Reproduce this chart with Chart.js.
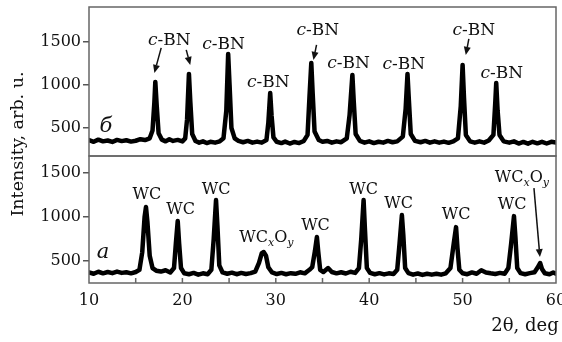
<!DOCTYPE html>
<html>
<head>
<meta charset="utf-8">
<script src="https://cdn.jsdelivr.net/npm/chart.js@4.4.0/dist/chart.umd.min.js"></script>
<style>
  html, body { margin: 0; padding: 0; background: #fff; }
  #wrap { position: relative; width: 562px; height: 342px; overflow: hidden; font-family: 'DejaVu Serif', serif; color: #111; }
  #topCanvas { position: absolute; left: 0; top: 0; }
  #botCanvas { position: absolute; left: 0; top: 150px; }
  .ytitle { position: absolute; left: -83px; top: 133px; width: 200px; height: 22px; line-height: 22px; text-align: center; transform: rotate(-90deg); white-space: nowrap; font-size: 17.5px; }
  .xtitle { position: absolute; left: 425px; top: 314px; width: 200px; height: 22px; line-height: 22px; text-align: center; white-space: nowrap; font-size: 18px; }
</style>
</head>
<body>
<div id="wrap">
  <canvas id="topCanvas" width="562" height="160"></canvas>
  <canvas id="botCanvas" width="562" height="192"></canvas>
  <div class="ytitle">Intensity, arb. u.</div>
  <div class="xtitle">2θ, deg</div>
</div>
<script>
// Панель б (c-BN): угол 2θ и интенсивность
const topAngle = [10.0, 10.5, 11.0, 11.5, 12.0, 12.5, 13.0, 13.5, 14.0, 14.5, 15.0, 15.5, 16.0, 16.5, 16.8, 17.0, 17.1, 17.25, 17.45, 17.8,
  18.2, 18.6, 19.0, 19.5, 20.0, 20.3, 20.5, 20.7, 20.85, 21.05, 21.4, 21.8, 22.2, 22.6, 23.0, 23.5, 24.0, 24.4, 24.7, 24.9,
  25.05, 25.25, 25.6, 26.0, 26.5, 27.0, 27.5, 28.0, 28.5, 29.0, 29.2, 29.4, 29.55, 29.75, 30.1, 30.6, 31.0, 31.5, 32.0, 32.5,
  33.0, 33.4, 33.6, 33.8, 33.95, 34.15, 34.6, 35.0, 35.5, 36.0, 36.5, 37.0, 37.6, 37.9, 38.2, 38.35, 38.55, 39.0, 39.5, 40.0,
  40.5, 41.0, 41.5, 42.0, 42.5, 43.0, 43.6, 43.9, 44.1, 44.25, 44.45, 44.9, 45.5, 46.0, 46.5, 47.0, 47.5, 48.0, 48.5, 49.0,
  49.5, 49.8, 50.0, 50.15, 50.35, 50.8, 51.3, 51.8, 52.3, 52.8, 53.3, 53.5, 53.6, 53.75, 53.95, 54.4, 55.0, 55.5, 56.0, 56.5,
  57.0, 57.5, 58.0, 58.5, 59.0, 59.5, 60.0];
const topIntensity = [360, 340, 365, 345, 355, 338, 362, 348, 358, 342, 352, 370, 360, 380, 470, 800, 1035, 760, 440, 365,
  345, 370, 350, 362, 345, 380, 600, 1128, 800, 430, 350, 330, 345, 325, 340, 330, 345, 380, 700, 1360,
  1000, 500, 380, 350, 335, 350, 330, 342, 330, 360, 560, 907, 640, 390, 340, 325, 342, 320, 338, 325,
  350, 420, 850, 1256, 900, 460, 360, 340, 350, 330, 345, 335, 380, 650, 1116, 800, 430, 350, 330, 345,
  325, 340, 330, 350, 335, 345, 400, 720, 1128, 820, 430, 350, 335, 350, 330, 345, 330, 342, 328, 345,
  380, 750, 1233, 850, 420, 345, 330, 345, 330, 355, 420, 800, 1023, 700, 420, 345, 330, 345, 320, 338,
  318, 340, 322, 340, 320, 340, 330];

// Панель а (WC): угол 2θ и интенсивность
const botAngle = [10.0, 10.5, 11.0, 11.5, 12.0, 12.5, 13.0, 13.5, 14.0, 14.5, 15.0, 15.4, 15.7, 15.95, 16.1, 16.25, 16.5, 16.8, 17.2, 17.7,
  18.2, 18.7, 19.1, 19.3, 19.5, 19.65, 19.85, 20.2, 20.7, 21.2, 21.7, 22.2, 22.7, 23.1, 23.35, 23.6, 23.75, 23.95, 24.3, 24.8,
  25.3, 25.8, 26.3, 26.8, 27.3, 27.8, 28.2, 28.5, 28.7, 28.95, 29.2, 29.6, 30.1, 30.6, 31.1, 31.6, 32.1, 32.6, 33.1, 33.6,
  33.9, 34.2, 34.4, 34.55, 34.75, 35.1, 35.6, 36.0, 36.5, 37.0, 37.5, 38.0, 38.5, 38.9, 39.15, 39.4, 39.55, 39.75, 40.1, 40.6,
  41.1, 41.6, 42.1, 42.6, 43.0, 43.25, 43.5, 43.65, 43.85, 44.2, 44.7, 45.2, 45.7, 46.2, 46.7, 47.2, 47.7, 48.2, 48.7, 49.05,
  49.3, 49.45, 49.65, 50.0, 50.5, 51.0, 51.5, 52.0, 52.5, 53.0, 53.5, 54.0, 54.5, 54.9, 55.2, 55.5, 55.65, 55.85, 56.2, 56.7,
  57.2, 57.7, 58.0, 58.3, 58.5, 58.8, 59.3, 59.7, 60.0];
const botIntensity = [370, 355, 378, 360, 375, 362, 380, 365, 372, 360, 375, 400, 600, 1000, 1114, 950, 560, 420, 390, 380,
  395, 370, 420, 700, 955, 700, 420, 360, 350, 365, 345, 360, 350, 400, 750, 1193, 900, 450, 370, 355,
  368, 350, 365, 352, 362, 380, 480, 590, 602, 560, 430, 370, 352, 365, 350, 362, 355, 372, 360, 400,
  430, 620, 773, 600, 400, 375, 420, 375, 360, 372, 358, 378, 365, 420, 750, 1193, 850, 420, 365, 350,
  362, 348, 360, 352, 400, 700, 1023, 800, 420, 362, 345, 358, 342, 355, 345, 355, 345, 360, 420, 700,
  886, 650, 400, 360, 350, 370, 355, 395, 370, 360, 352, 365, 355, 420, 700, 1011, 780, 420, 362, 350,
  362, 372, 420, 477, 410, 360, 350, 370, 355];

const yTicks = [500, 1000, 1500];

// подписи пиков (положение в координатах графика)
const topNoteAngle = [18.6, 24.4, 29.2, 34.5, 37.8, 43.7, 51.2, 54.2];
const topNoteLevel = [1512, 1465, 1023, 1628, 1244, 1233, 1628, 1128];
const topArrows = [[17.73, 1430, 17.0, 1140], [20.41, 1407, 20.84, 1233], [34.36, 1465, 34.03, 1291], [50.67, 1535, 50.34, 1349]];

const botNoteText = ['WC', 'WC', 'WC', 'WCxOy', 'WC', 'WC', 'WC', 'WC', 'WC', 'WCxOy'];
const botNoteAngle = [16.2, 19.8, 23.6, 29.0, 34.25, 39.4, 43.15, 49.3, 55.3, 56.35];
const botNoteLevel = [1250, 1080, 1307, 761, 898, 1307, 1148, 1023, 1136, 1443];
const botArrows = [[57.64, 1330, 58.28, 545]];

const FONT = "'DejaVu Serif', serif";
Chart.defaults.font.family = FONT;
Chart.defaults.color = '#111';

function partsFor(kind) {
  if (kind === 'c-BN') return [{ t: 'c', it: true, size: 17 }, { t: '-BN', size: 17 }];
  if (kind === 'WCxOy') return [{ t: 'WC', size: 16 }, { t: 'x', it: true, sub: true, size: 11 }, { t: 'O', size: 16 }, { t: 'y', it: true, sub: true, size: 11 }];
  return [{ t: kind, size: 16 }];
}

function drawRich(ctx, parts, cx, cy) {
  let w = 0;
  parts.forEach(p => {
    ctx.font = (p.it ? 'italic ' : '') + p.size + 'px ' + FONT;
    p.w = ctx.measureText(p.t).width;
    w += p.w;
  });
  let x = cx - w / 2;
  ctx.textAlign = 'left';
  ctx.textBaseline = 'middle';
  parts.forEach(p => {
    ctx.font = (p.it ? 'italic ' : '') + p.size + 'px ' + FONT;
    ctx.fillText(p.t, x, cy + (p.sub ? 5 : 0));
    x += p.w;
  });
}

function drawArrow(ctx, x1, y1, x2, y2) {
  const a = Math.atan2(y2 - y1, x2 - x1);
  const L = 8, H = 3.5;
  ctx.beginPath();
  ctx.moveTo(x1, y1);
  ctx.lineTo(x2 - L * Math.cos(a), y2 - L * Math.sin(a));
  ctx.lineWidth = 1.5;
  ctx.strokeStyle = '#111';
  ctx.stroke();
  ctx.beginPath();
  ctx.moveTo(x2, y2);
  ctx.lineTo(x2 - L * Math.cos(a) + H * Math.sin(a), y2 - L * Math.sin(a) - H * Math.cos(a));
  ctx.lineTo(x2 - L * Math.cos(a) - H * Math.sin(a), y2 - L * Math.sin(a) + H * Math.cos(a));
  ctx.closePath();
  ctx.fillStyle = '#111';
  ctx.fill();
}

// рамка, засечки, подписи и стрелки
function panelPlugin(notes, arrows, letter, inwardTicks) {
  return {
    id: 'panel',
    afterDraw(chart) {
      const { ctx, chartArea: a, scales } = chart;
      ctx.save();
      ctx.strokeStyle = '#666';
      ctx.lineWidth = 1.5;
      ctx.strokeRect(a.left, a.top, a.right - a.left, a.bottom - a.top);
      if (inwardTicks) {
        ctx.beginPath();
        for (let v = 15; v < 60; v += 5) {
          const px = scales.x.getPixelForValue(v);
          ctx.moveTo(px, a.bottom);
          ctx.lineTo(px, a.bottom - 5);
        }
        ctx.stroke();
      }
      ctx.fillStyle = '#111';
      notes.forEach(n => drawRich(ctx, partsFor(n.text), scales.x.getPixelForValue(n.x), scales.y.getPixelForValue(n.y)));
      arrows.forEach(r => drawArrow(ctx, scales.x.getPixelForValue(r[0]), scales.y.getPixelForValue(r[1]),
        scales.x.getPixelForValue(r[2]), scales.y.getPixelForValue(r[3])));
      ctx.font = 'italic 21px ' + FONT;
      ctx.textAlign = 'center';
      ctx.textBaseline = 'middle';
      ctx.fillStyle = '#111';
      ctx.fillText(letter.t, scales.x.getPixelForValue(letter.x), scales.y.getPixelForValue(letter.y));
      ctx.restore();
    }
  };
}

function yAxis(min, max) {
  return {
    min: min, max: max,
    afterBuildTicks: s => { s.ticks = yTicks.map(v => ({ value: v })); },
    afterFit: s => { s.width = 89; s.paddingTop = 0; s.paddingBottom = 0; },
    grid: { drawOnChartArea: false, tickLength: 6, color: '#555', lineWidth: 1.5 },
    border: { display: false },
    ticks: { padding: 2, font: { size: 16 }, color: '#111', callback: v => String(v) }
  };
}

function series(xs, ys) {
  return [{
    data: xs.map((x, i) => ({ x: x, y: ys[i] })),
    borderColor: '#000', borderWidth: 4.5, pointRadius: 0, tension: 0,
    borderJoinStyle: 'round', borderCapStyle: 'round'
  }];
}

const topNotes = topNoteAngle.map((x, i) => ({ text: 'c-BN', x: x, y: topNoteLevel[i] }));
const botNotes = botNoteAngle.map((x, i) => ({ text: botNoteText[i], x: x, y: botNoteLevel[i] }));

new Chart(document.getElementById('topCanvas'), {
  type: 'line',
  data: { datasets: series(topAngle, topIntensity) },
  options: {
    responsive: false, animation: false,
    layout: { padding: { top: 7, right: 6, bottom: 4, left: 0 } },
    plugins: { legend: { display: false }, tooltip: { enabled: false } },
    scales: {
      x: { type: 'linear', min: 10, max: 60, display: false },
      y: yAxis(175, 1905)
    }
  },
  plugins: [panelPlugin(topNotes, topArrows, { t: 'б', x: 11.82, y: 520 }, false)]
});

new Chart(document.getElementById('botCanvas'), {
  type: 'line',
  data: { datasets: series(botAngle, botIntensity) },
  options: {
    responsive: false, animation: false,
    layout: { padding: { top: 6, right: 6, bottom: 0, left: 0 } },
    plugins: { legend: { display: false }, tooltip: { enabled: false } },
    scales: {
      x: {
        type: 'linear', min: 10, max: 60,
        afterFit: s => { s.height = 59; s.paddingLeft = 0; s.paddingRight = 0; },
        grid: { drawOnChartArea: false, drawTicks: false },
        border: { display: false },
        ticks: { stepSize: 10, padding: 8, font: { size: 16 }, color: '#111' }
      },
      y: yAxis(250, 1695)
    }
  },
  plugins: [panelPlugin(botNotes, botArrows, { t: 'а', x: 11.5, y: 591 }, true)]
});
</script>
</body>
</html>
